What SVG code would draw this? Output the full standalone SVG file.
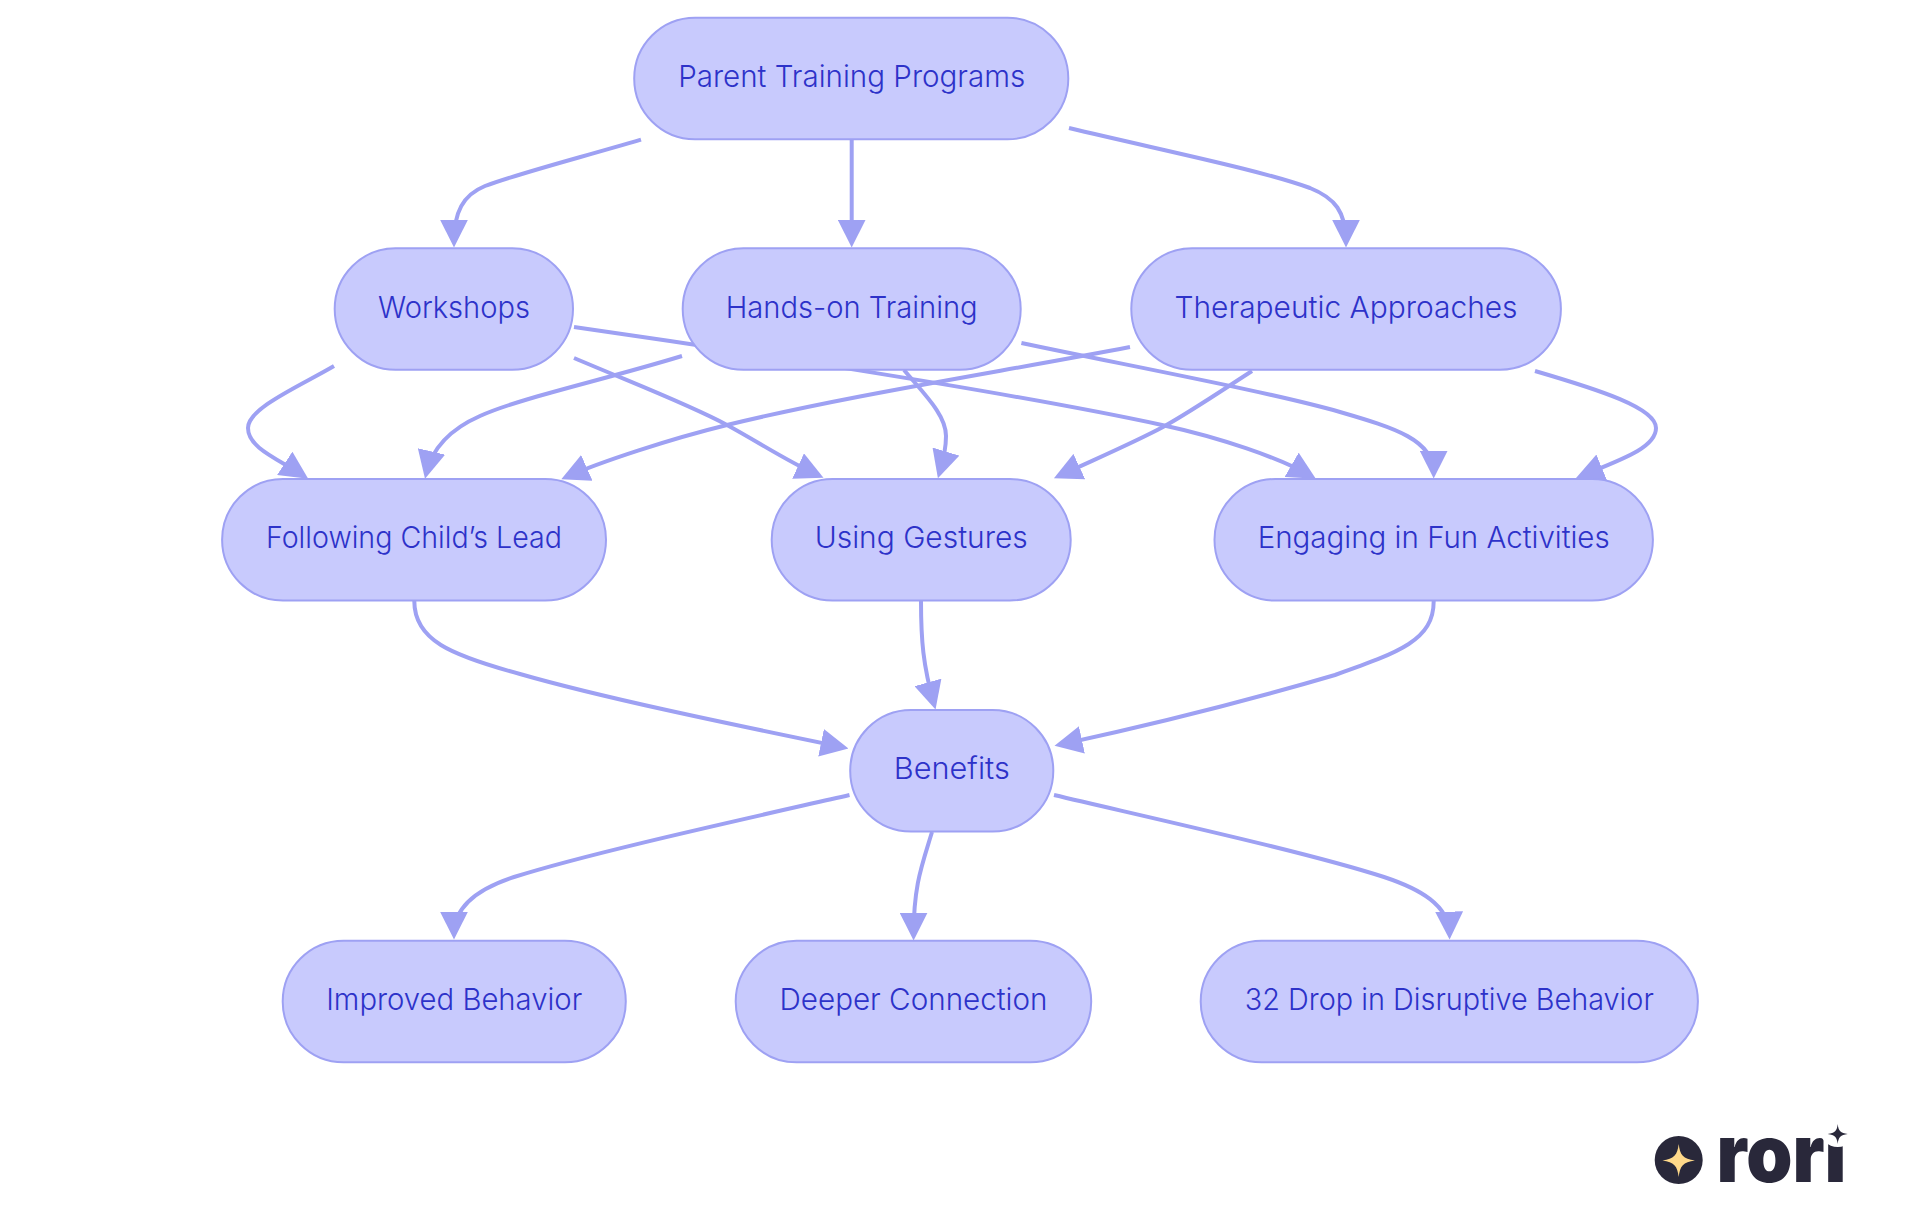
<svg xmlns="http://www.w3.org/2000/svg" width="1920" height="1215" viewBox="0 0 1920 1215">
<style>
.n{fill:#c8cafd;stroke:#9ea1f3;stroke-width:2}
.t{fill:#2d32c9;font-family:"Inter","Liberation Sans",sans-serif;font-size:30px;font-weight:350;text-anchor:middle}
.e{fill:none;stroke:#9ea1f3;stroke-width:4;marker-end:url(#a)}
.l{fill:#29283a}
</style>
<defs>
<marker id="a" viewBox="0 0 10 10" refX="8" refY="5" markerUnits="userSpaceOnUse" markerWidth="28" markerHeight="28" orient="auto"><path d="M0,0L10,5L0,10z" fill="#9ea1f3"/></marker>
</defs>
<rect width="1920" height="1215" fill="#fff"/>
<g id="connectors">
<path class="e" d="M641,139.6C575,159 520,173 485,186C463,195 454,212 454,242"/>
<path class="e" d="M851.7,140L851.7,242"/>
<path class="e" d="M1069,128C1170,152 1260,170 1310,188C1335,198 1346,212 1346,242"/>
<path class="e" d="M334,366C300,386 248,408 248,428C248,448 278,459 303.5,475.6"/>
<path class="e" d="M574,358C640,386 690,405 727,425C760,443 785,460 818.4,475.5"/>
<path class="e" d="M574,327C700,345 1000,390 1162,425C1220,437.5 1280,458 1311,476"/>
<path class="e" d="M682,356C600,381 520,398 480,416C455,427 433,445 426.3,473.2"/>
<path class="e" d="M904,370C925,395 946,415 946,436C946,445 944,458 939.5,473"/>
<path class="e" d="M1021.4,343C1130,366 1270,392 1340,412C1395,428 1433.7,440 1433.7,473"/>
<path class="e" d="M1130,347C1000,372 850,395 727,425C670,439 600,462 566.4,477"/>
<path class="e" d="M1252,371C1215,395 1190,412 1163,427C1135,442 1100,457 1059,476"/>
<path class="e" d="M1535,371C1600,390 1656,408 1656,428C1656,448 1620,460 1581,476"/>
<path class="e" d="M414.3,601C414.3,640 450,655 520,674C600,697 720,722 843,747.3"/>
<path class="e" d="M921,601C921,640 923,665 934,704"/>
<path class="e" d="M1433.7,601C1433.7,640 1400,652 1335,675C1250,700 1160,723 1060,744.6"/>
<path class="e" d="M849.5,795C740,820 590,853 514,877C480,888 454,905 454,934"/>
<path class="e" d="M932,832C922,865 913.6,885 913.6,935"/>
<path class="e" d="M1054,795C1160,820 1310,853 1384,877C1420,889 1449,905 1449.500,934"/>
</g>
<g id="n-parent"><rect class="n" x="634.2" y="17.7" width="434.1" height="121.6" rx="60.8"/><text class="t" x="851.7" y="87.3" textLength="347" lengthAdjust="spacingAndGlyphs">Parent Training Programs</text></g>
<g id="n-workshops"><rect class="n" x="334.7" y="248.2" width="238.3" height="121.6" rx="60.8"/><text class="t" x="454" y="317.500" textLength="152" lengthAdjust="spacingAndGlyphs">Workshops</text></g>
<g id="n-hands"><rect class="n" x="682.7" y="248.2" width="338" height="121.6" rx="60.8"/><text class="t" x="851.7" y="317.500" textLength="252" lengthAdjust="spacingAndGlyphs">Hands-on Training</text></g>
<g id="n-therapeutic"><rect class="n" x="1131.3" y="248.2" width="429.6" height="121.6" rx="60.8"/><text class="t" x="1346" y="317.500" textLength="343" lengthAdjust="spacingAndGlyphs">Therapeutic Approaches</text></g>
<g id="n-following"><rect class="n" x="222.100" y="479" width="383.900" height="121.6" rx="60.8"/><text class="t" x="414" y="548.3" textLength="296" lengthAdjust="spacingAndGlyphs">Following Child’s Lead</text></g>
<g id="n-gestures"><rect class="n" x="771.7" y="479" width="299" height="121.6" rx="60.8"/><text class="t" x="921.2" y="548.3" textLength="213" lengthAdjust="spacingAndGlyphs">Using Gestures</text></g>
<g id="n-engaging"><rect class="n" x="1214.5" y="479" width="438.4" height="121.6" rx="60.8"/><text class="t" x="1433.7" y="548.3" textLength="352" lengthAdjust="spacingAndGlyphs">Engaging in Fun Activities</text></g>
<g id="n-benefits"><rect class="n" x="850.2" y="710" width="203.1" height="121.6" rx="60.8"/><text class="t" x="951.8" y="779.3" textLength="116" lengthAdjust="spacingAndGlyphs">Benefits</text></g>
<g id="n-improved"><rect class="n" x="282.7" y="940.7" width="343.1" height="121.6" rx="60.8"/><text class="t" x="454.2" y="1010" textLength="256" lengthAdjust="spacingAndGlyphs">Improved Behavior</text></g>
<g id="n-deeper"><rect class="n" x="735.7" y="940.7" width="355.5" height="121.6" rx="60.8"/><text class="t" x="913.5" y="1010" textLength="268" lengthAdjust="spacingAndGlyphs">Deeper Connection</text></g>
<g id="n-drop"><rect class="n" x="1200.7" y="940.7" width="497.2" height="121.6" rx="60.8"/><text class="t" x="1449.3" y="1010" textLength="409" lengthAdjust="spacingAndGlyphs">32 Drop in Disruptive Behavior</text></g>
<g id="logo">
<circle class="l" cx="1678.7" cy="1160" r="24"/>
<path fill="#ffd98a" d="M1678.7,1144C1680,1155 1683,1159 1695,1160.500C1683,1162 1680,1166 1678.700,1177C1677.400,1166 1674,1162 1662.500,1160.500C1674,1159 1677.400,1155 1678.700,1144Z"/>
<text class="l" x="1716.500" y="1181.700" font-family="Inter,'DejaVu Sans',sans-serif" font-weight="900" font-size="80" textLength="130" lengthAdjust="spacingAndGlyphs">rori</text>
<circle cx="1837.700" cy="1129" r="18" fill="#fff"/>
<path class="l" d="M1837.700,1124C1838.500,1131 1840.500,1133 1847.700,1134C1840.500,1135 1838.500,1137 1837.700,1144C1836.900,1137 1834.900,1135 1827.700,1134C1834.900,1133 1836.900,1131 1837.700,1124Z"/>
</g>
</svg>
